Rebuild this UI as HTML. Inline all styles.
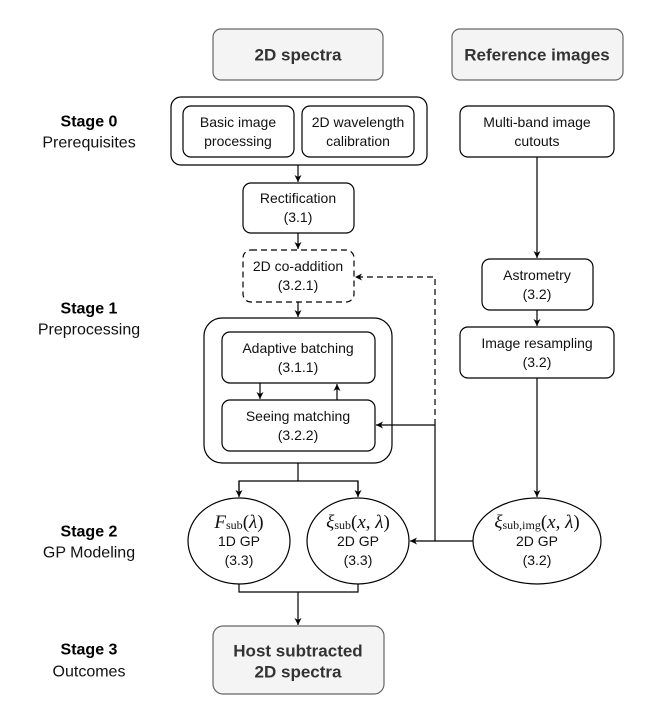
<!DOCTYPE html>
<html><head><meta charset="utf-8"><style>
html,body{margin:0;padding:0;background:#fff;}
svg{display:block;}
text{font-family:"Liberation Sans",sans-serif;font-size:14px;fill:#111;text-anchor:middle;dominant-baseline:central;}
.b{font-weight:bold;font-size:17px;fill:#333;}
.s{font-weight:bold;font-size:16px;fill:#000;}
.l{font-size:16px;}
.m{font-family:"Liberation Serif",serif;font-style:italic;font-size:19px;}
.sub{font-family:"Liberation Serif",serif;font-style:normal;font-size:12px;}
.up{font-family:"Liberation Serif",serif;font-style:normal;font-size:19px;}
</style></head><body>
<svg width="648" height="724" viewBox="0 0 648 724" xmlns="http://www.w3.org/2000/svg">
<defs>
<marker id="a" markerWidth="8" markerHeight="8" refX="7" refY="4" orient="auto" markerUnits="userSpaceOnUse">
<path d="M0,0.5 L7,4 L0,7.5 L2,4 Z" fill="#000"/></marker>
</defs>
<g fill="none" stroke="#000" stroke-width="1.2">
<rect x="213" y="29" width="170" height="51" rx="8" fill="#f4f4f4" stroke="#666"/>
<rect x="452" y="29" width="171" height="51" rx="8" fill="#f4f4f4" stroke="#666"/>
<rect x="171" y="97" width="256" height="68" rx="10"/>
<rect x="183" y="106" width="111" height="51" rx="8"/>
<rect x="302" y="106" width="112" height="51" rx="8"/>
<rect x="460" y="106" width="154" height="51" rx="8"/>
<rect x="243" y="183" width="111" height="50" rx="8"/>
<rect x="243" y="250" width="111" height="52" rx="8" stroke-dasharray="6,4"/>
<rect x="482" y="259" width="111" height="51" rx="8"/>
<rect x="460" y="327" width="154" height="51" rx="8"/>
<rect x="204" y="318" width="188" height="145" rx="18"/>
<rect x="222" y="332" width="153" height="51" rx="8"/>
<rect x="222" y="400" width="153" height="51" rx="8"/>
<ellipse cx="239" cy="541" rx="51" ry="43"/>
<ellipse cx="358" cy="541" rx="51" ry="43"/>
<ellipse cx="537" cy="541" rx="64" ry="43"/>
<rect x="213" y="626" width="171" height="68" rx="10" fill="#f4f4f4" stroke="#666"/>
<line x1="298" y1="165" x2="298" y2="182" marker-end="url(#a)"/>
<line x1="298" y1="233" x2="298" y2="249" marker-end="url(#a)"/>
<line x1="298" y1="302" x2="298" y2="317" marker-end="url(#a)"/>
<line x1="537" y1="157" x2="537" y2="258" marker-end="url(#a)"/>
<line x1="537" y1="310" x2="537" y2="326" marker-end="url(#a)"/>
<line x1="537" y1="378" x2="537" y2="497" marker-end="url(#a)"/>
<line x1="260" y1="383" x2="260" y2="399" marker-end="url(#a)"/>
<line x1="337" y1="400" x2="337" y2="384" marker-end="url(#a)"/>
<polyline points="435,425 435,277 355,277" stroke-dasharray="6,4" marker-end="url(#a)"/>
<line x1="435" y1="425" x2="376" y2="425" marker-end="url(#a)"/>
<line x1="435" y1="425" x2="435" y2="541"/>
<line x1="473" y1="541" x2="410" y2="541" marker-end="url(#a)"/>
<polyline points="298,463 298,481"/>
<polyline points="239,496 239,481 358,481 358,496" />
<line x1="239" y1="481" x2="239" y2="497" marker-end="url(#a)"/>
<line x1="358" y1="481" x2="358" y2="497" marker-end="url(#a)"/>
<polyline points="239,584 239,592 358,592 358,584"/>
<line x1="298" y1="592" x2="298" y2="625" marker-end="url(#a)"/>
</g>
<text class="b" x="298" y="55">2D spectra</text>
<text class="b" x="537" y="55">Reference images</text>
<text x="238" y="122">Basic image</text><text x="238" y="141">processing</text>
<text x="358" y="122">2D wavelength</text><text x="358" y="141">calibration</text>
<text x="537" y="122">Multi-band image</text><text x="537" y="141">cutouts</text>
<text x="298" y="198">Rectification</text><text x="298" y="217">(3.1)</text>
<text x="298" y="266">2D co-addition</text><text x="298" y="285">(3.2.1)</text>
<text x="537" y="275">Astrometry</text><text x="537" y="294">(3.2)</text>
<text x="537" y="343">Image resampling</text><text x="537" y="362">(3.2)</text>
<text x="298" y="348">Adaptive batching</text><text x="298" y="367">(3.1.1)</text>
<text x="298" y="416">Seeing matching</text><text x="298" y="435">(3.2.2)</text>
<text x="239" y="522"><tspan class="m">F</tspan><tspan class="sub" dy="3">sub</tspan><tspan class="up" dy="-3">(</tspan><tspan class="m">λ</tspan><tspan class="up">)</tspan></text>
<text x="239" y="541">1D GP</text><text x="239" y="560">(3.3)</text>
<text x="358" y="522"><tspan class="m">ξ</tspan><tspan class="sub" dy="3">sub</tspan><tspan class="up" dy="-3">(</tspan><tspan class="m">x</tspan><tspan class="up">, </tspan><tspan class="m">λ</tspan><tspan class="up">)</tspan></text>
<text x="358" y="541">2D GP</text><text x="358" y="560">(3.3)</text>
<text x="537" y="522"><tspan class="m">ξ</tspan><tspan class="sub" dy="3">sub,img</tspan><tspan class="up" dy="-3">(</tspan><tspan class="m">x</tspan><tspan class="up">, </tspan><tspan class="m">λ</tspan><tspan class="up">)</tspan></text>
<text x="537" y="541">2D GP</text><text x="537" y="560">(3.2)</text>
<text class="b" x="298" y="651">Host subtracted</text><text class="b" x="298" y="672">2D spectra</text>
<text class="s" x="89" y="122">Stage 0</text><text class="l" x="89" y="143">Prerequisites</text>
<text class="s" x="89" y="309">Stage 1</text><text class="l" x="89" y="330">Preprocessing</text>
<text class="s" x="89" y="532">Stage 2</text><text class="l" x="89" y="553">GP Modeling</text>
<text class="s" x="89" y="650">Stage 3</text><text class="l" x="89" y="672">Outcomes</text>
</svg>
</body></html>
